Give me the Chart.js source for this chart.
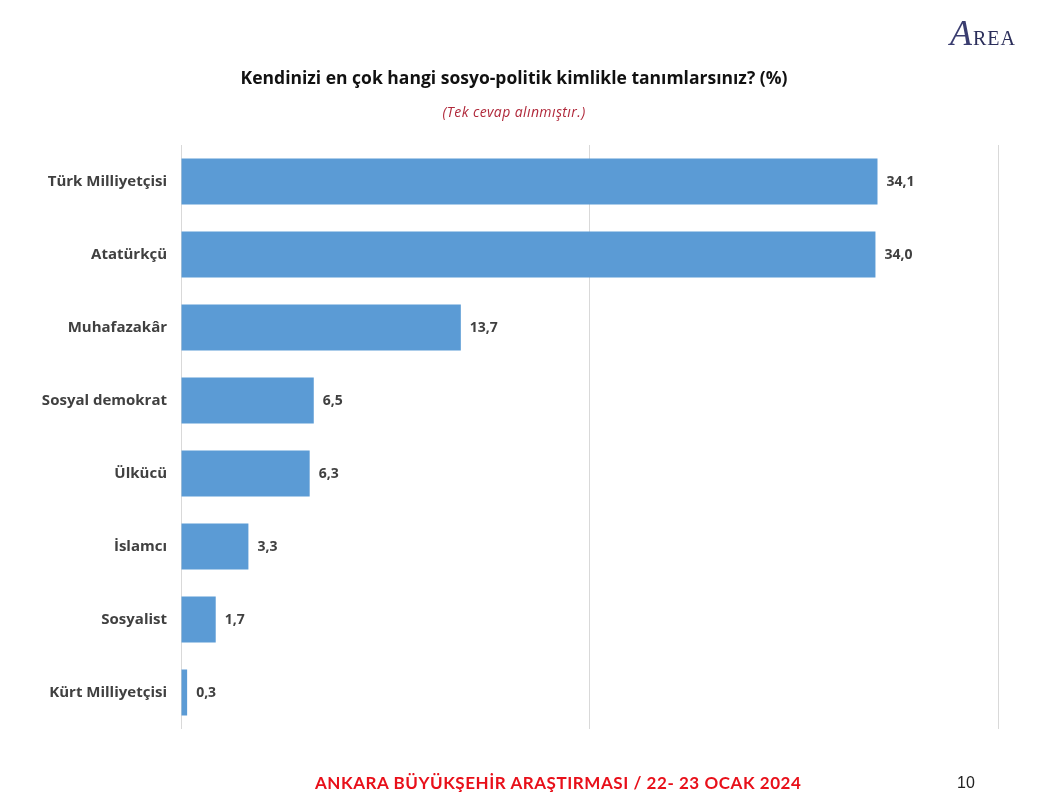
<!DOCTYPE html>
<html>
<head>
<meta charset="utf-8">
<script src="https://cdn.jsdelivr.net/npm/chart.js@4"></script>
<style>
    body { margin: 0; background: #fff; font-family: "Open Sans", sans-serif; }
    #wrap { position: relative; width: 1044px; height: 805px; }
    #chart { position: absolute; left: 0; top: 0; }
    .txt { position: absolute; white-space: nowrap; }
    #title { left: 0; width: 1028px; top: 65px; text-align: center; font-weight: bold; font-size: 17.5px; color: #111; }
    #sub { left: 0; width: 1028px; top: 102px; text-align: center; font-style: italic; font-size: 14px; letter-spacing: 0.4px; color: #b0283a; }
    #footer { left: 315px; top: 772px; font-family: Lato, sans-serif; font-weight: bold; font-size: 17px; letter-spacing: 0.55px; color: #e8101a; }
    #page { left: 957px; top: 774px; font-size: 16px; color: #222; font-family: "Liberation Sans", Arial, sans-serif; }
    #logo { left: 950px; top: 12px; font-family: "Liberation Serif", serif; color: #2b2e5a; font-size: 20px; letter-spacing: 1px; }
    #logo .a { font-size: 36px; font-style: italic; color: #3a3d70; }
</style>
</head>
<body>
<div id="wrap">
    <canvas id="chart" width="1044" height="805"></canvas>
    <div class="txt" id="logo"><span class="a">A</span>REA</div>
    <div class="txt" id="title">Kendinizi en çok hangi sosyo-politik kimlikle tanımlarsınız? (%)</div>
    <div class="txt" id="sub">(Tek cevap alınmıştır.)</div>
    <div class="txt" id="footer">ANKARA BÜYÜKŞEHİR ARAŞTIRMASI / 22- 23 OCAK 2024</div>
    <div class="txt" id="page">10</div>
</div>
<script>
const categories = [
    "Türk Milliyetçisi", "Atatürkçü", "Muhafazakâr", "Sosyal demokrat",
    "Ülkücü", "İslamcı", "Sosyalist", "Kürt Milliyetçisi"
];
const values = [34.1, 34.0, 13.7, 6.5, 6.3, 3.3, 1.7, 0.3];

// value labels at the end of each bar
const barLabels = {
    id: "barLabels",
    afterDatasetsDraw(chart) {
        const ctx = chart.ctx;
        const meta = chart.getDatasetMeta(0);
        ctx.save();
        ctx.font = "bold 14px 'Open Sans', sans-serif";
        ctx.fillStyle = "#404040";
        ctx.textAlign = "left";
        ctx.textBaseline = "middle";
        meta.data.forEach((bar, i) => {
            const label = values[i].toFixed(1).replace(".", ",");
            ctx.fillText(label, bar.x + 9, bar.y + 1);
        });
        ctx.restore();
    }
};

const ctx = document.getElementById("chart").getContext("2d");
new Chart(ctx, {
    type: "bar",
    data: {
        labels: categories,
        datasets: [{
            data: values,
            backgroundColor: "#5b9bd5",
            categoryPercentage: 1,
            barPercentage: 0.63
        }]
    },
    options: {
        indexAxis: "y",
        responsive: false,
        animation: false,
        layout: { padding: { left: 0, right: 46, top: 145, bottom: 76 } },
        plugins: {
            legend: { display: false },
            tooltip: { enabled: false }
        },
        scales: {
            x: {
                min: 0,
                max: 40,
                ticks: { display: false, stepSize: 20 },
                grid: { color: "#d9d9d9", drawTicks: false },
                border: { display: false },
                afterFit: (scale) => { scale.height = 0; }
            },
            y: {
                ticks: {
                    color: "#404040",
                    padding: 14,
                    font: { family: "'Open Sans', sans-serif", size: 15, weight: "bold" }
                },
                grid: { display: false, drawTicks: false },
                border: { display: false },
                afterFit: (scale) => { scale.width = 181; }
            }
        }
    },
    plugins: [barLabels]
});
</script>
</body>
</html>
